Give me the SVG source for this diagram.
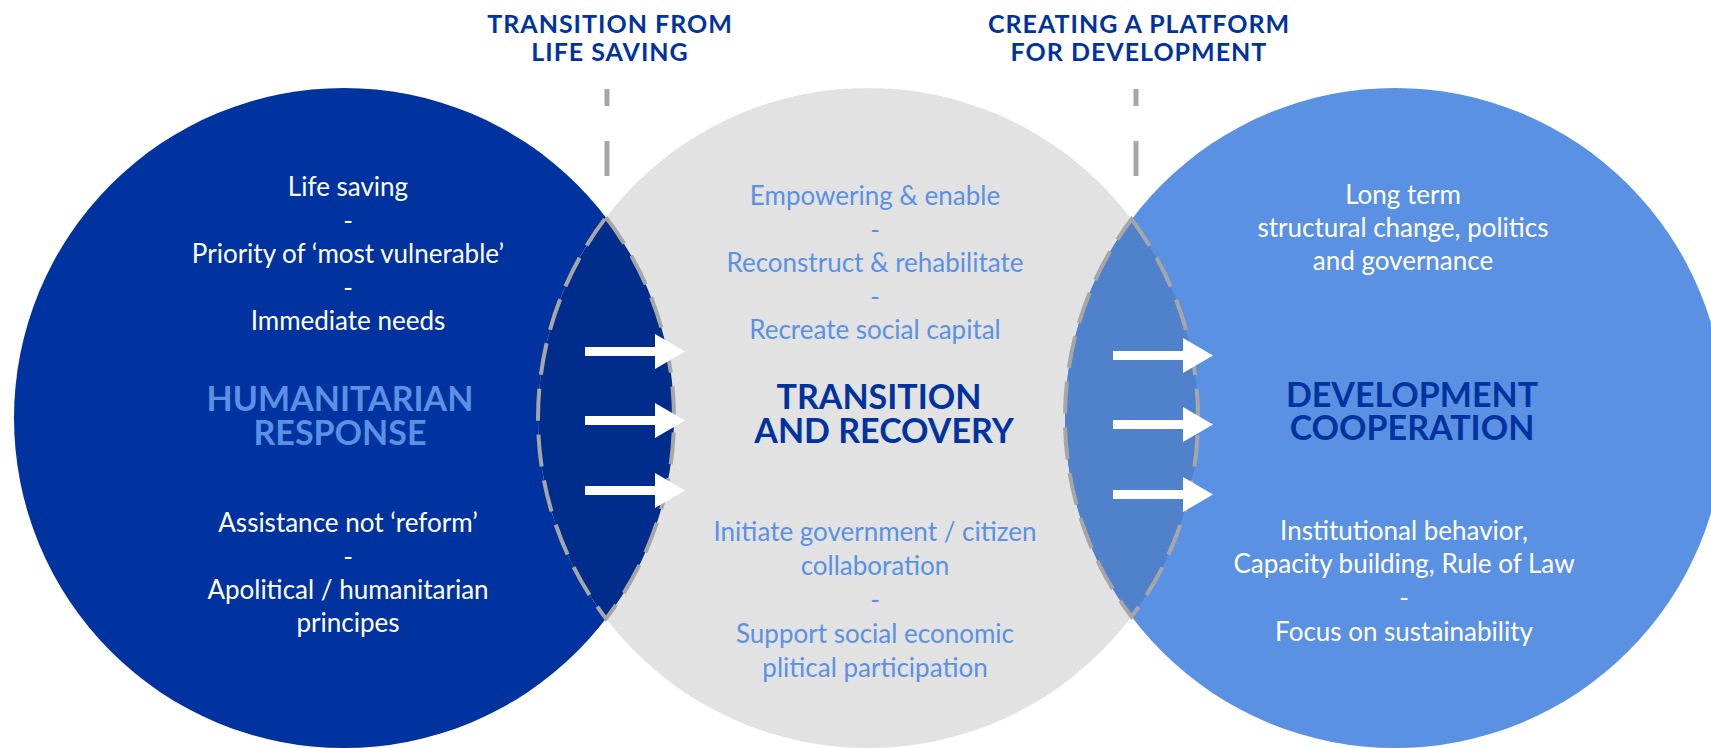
<svg xmlns="http://www.w3.org/2000/svg" width="1711" height="748" viewBox="0 0 1711 748">
<style>
.t{font-family:Lato,"Liberation Sans",sans-serif;font-size:26px;text-anchor:middle}
.w{fill:#ffffff}
.lb{fill:#5B91E2}
.hd{font-family:Lato,"Liberation Sans",sans-serif;font-weight:700;font-size:25px;fill:#0033A0;text-anchor:middle;letter-spacing:1px}
.big{font-family:Lato,"Liberation Sans",sans-serif;font-weight:700;font-size:34px;text-anchor:middle}
.lens{fill:none;stroke:#A6A6A6;stroke-width:4;stroke-dasharray:32 14}
.vline{stroke:#A6A6A6;stroke-width:5;stroke-dasharray:35 35;stroke-dashoffset:18}
.arrow{fill:#ffffff}
</style>
<defs>
<path id="arr" d="M0,-4.5 L70,-4.5 L70,-17.5 L100,0 L70,17.5 L70,4.5 L0,4.5 Z"/>
</defs>
<rect width="1711" height="748" fill="#ffffff"/>
<g id="humanitarian">
<circle cx="344" cy="418" r="330" fill="#0033A0"/>
</g>
<g id="transition">
<circle cx="868" cy="418" r="330" fill="#E2E2E2"/>
</g>
<g id="development">
<circle cx="1395" cy="418" r="330" fill="#5B91E2"/>
</g>
<g id="lens-left">
<path d="M606,217.4 A330,330 0 0,1 606,618.6 A330,330 0 0,1 606,217.4 Z" fill="#002D8C"/>
</g>
<g id="lens-right">
<path d="M1131.5,219.3 A330,330 0 0,1 1131.5,616.7 A330,330 0 0,1 1131.5,219.3 Z" fill="#5082CC"/>
</g>
<g id="connectors">
<path class="lens" d="M606,217.4 A330,330 0 0,1 606,618.6 A330,330 0 0,1 606,217.4 Z"/>
<path class="lens" d="M1131.5,219.3 A330,330 0 0,1 1131.5,616.7 A330,330 0 0,1 1131.5,219.3 Z"/>
<line class="vline" x1="607" y1="89" x2="607" y2="176"/>
<line class="vline" x1="1136" y1="89" x2="1136" y2="176"/>
<use href="#arr" class="arrow" x="585" y="351.5"/>
<use href="#arr" class="arrow" x="585" y="420.5"/>
<use href="#arr" class="arrow" x="585" y="490.5"/>
<use href="#arr" class="arrow" x="1113" y="355.5"/>
<use href="#arr" class="arrow" x="1113" y="424.5"/>
<use href="#arr" class="arrow" x="1113" y="494.5"/>
</g>
<g id="header-left">
<text class="hd"><tspan x="610" y="33">TRANSITION FROM</tspan><tspan x="610" y="61">LIFE SAVING</tspan></text>
</g>
<g id="header-right">
<text class="hd"><tspan x="1139" y="33">CREATING A PLATFORM</tspan><tspan x="1139" y="61">FOR DEVELOPMENT</tspan></text>
</g>
<g id="humanitarian-text">
<text class="t w" x="348" y="196">Life saving</text>
<text class="t w" x="348" y="229.5">-</text>
<text class="t w" x="348" y="263">Priority of ‘most vulnerable’</text>
<text class="t w" x="348" y="296.5">-</text>
<text class="t w" x="348" y="330">Immediate needs</text>
<text class="big lb"><tspan x="340" y="411">HUMANITARIAN</tspan><tspan x="340" y="445">RESPONSE</tspan></text>
<text class="t w" x="348" y="532">Assistance not ‘reform’</text>
<text class="t w" x="348" y="565.5">-</text>
<text class="t w"><tspan x="348" y="599">Apolitical / humanitarian</tspan><tspan x="348" y="632">principes</tspan></text>
</g>
<g id="transition-text">
<text class="t lb" x="875" y="205">Empowering &amp; enable</text>
<text class="t lb" x="875" y="238.5">-</text>
<text class="t lb" x="875" y="272">Reconstruct &amp; rehabilitate</text>
<text class="t lb" x="875" y="305.5">-</text>
<text class="t lb" x="875" y="339">Recreate social capital</text>
<text class="big" fill="#0033A0"><tspan x="879" y="409">TRANSITION</tspan><tspan x="884" y="443">AND RECOVERY</tspan></text>
<text class="t lb"><tspan x="875" y="541">Initiate government / citizen</tspan><tspan x="875" y="575">collaboration</tspan></text>
<text class="t lb" x="875" y="609">-</text>
<text class="t lb"><tspan x="875" y="643">Support social economic</tspan><tspan x="875" y="677">plitical participation</tspan></text>
</g>
<g id="development-text">
<text class="t w"><tspan x="1403" y="204">Long term</tspan><tspan x="1403" y="237">structural change, politics</tspan><tspan x="1403" y="270">and governance</tspan></text>
<text class="big" fill="#0033A0"><tspan x="1412" y="407">DEVELOPMENT</tspan><tspan x="1412" y="440">COOPERATION</tspan></text>
<text class="t w"><tspan x="1404" y="540">Institutional behavior,</tspan><tspan x="1404" y="573">Capacity building, Rule of Law</tspan></text>
<text class="t w" x="1404" y="607">-</text>
<text class="t w" x="1404" y="641">Focus on sustainability</text>
</g>
</svg>
